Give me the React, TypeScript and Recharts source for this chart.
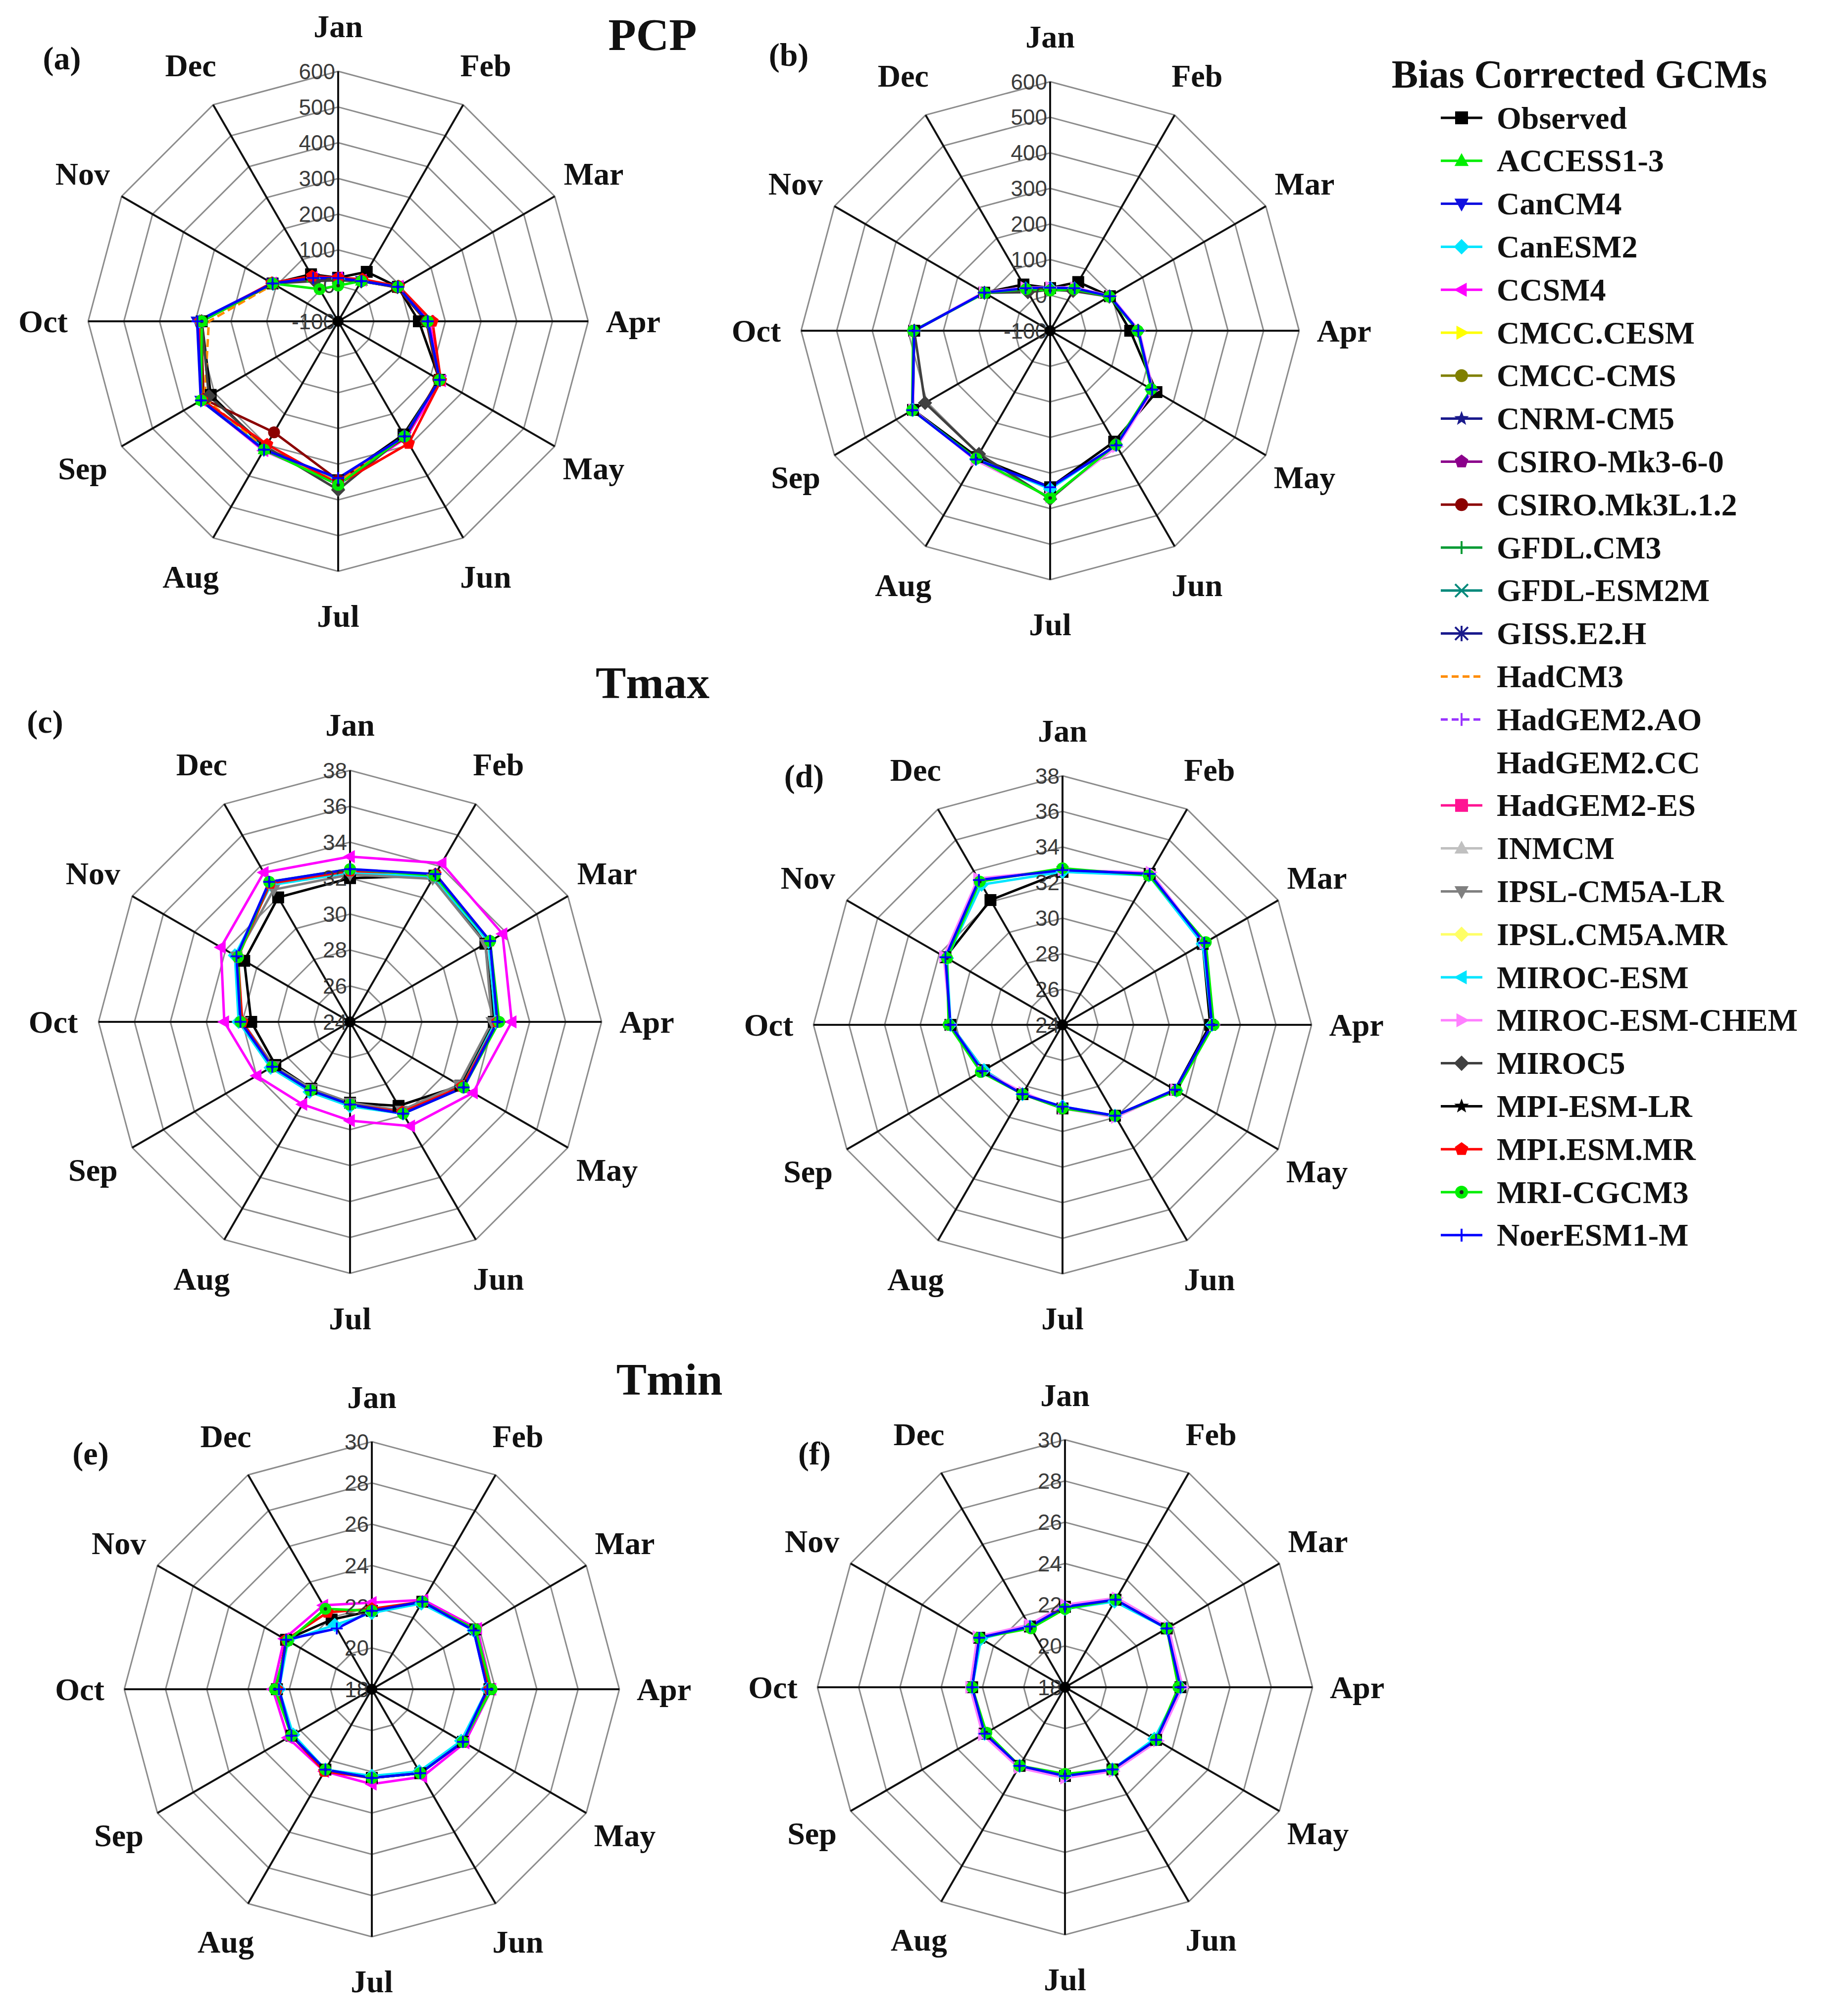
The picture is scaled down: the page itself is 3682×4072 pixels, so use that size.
import React from "react";
import { RadarChart, Radar, PolarGrid, PolarAngleAxis, PolarRadiusAxis } from "recharts";

// ---- categories ----
const months = ["Jan", "Feb", "Mar", "Apr", "May", "Jun", "Jul", "Aug", "Sep", "Oct", "Nov", "Dec"];

// ---- legend ----
const legendNames = [
  "Observed", "ACCESS1-3", "CanCM4", "CanESM2", "CCSM4", "CMCC.CESM", "CMCC-CMS", "CNRM-CM5",
  "CSIRO-Mk3-6-0", "CSIRO.Mk3L.1.2", "GFDL.CM3", "GFDL-ESM2M", "GISS.E2.H", "HadCM3", "HadGEM2.AO",
  "HadGEM2.CC", "HadGEM2-ES", "INMCM", "IPSL-CM5A-LR", "IPSL.CM5A.MR", "MIROC-ESM", "MIROC-ESM-CHEM",
  "MIROC5", "MPI-ESM-LR", "MPI.ESM.MR", "MRI-CGCM3", "NoerESM1-M",
];
const legendColors = [
  "#000000", "#00ee00", "#1010e0", "#00e5ff", "#ff00ff", "#ffff00", "#808000", "#1a1a8c",
  "#8b008b", "#8b0000", "#009a33", "#00897b", "#1a1a8c", "#ff8c00", "#9933ff",
  "#ffffff", "#ff1493", "#c0c0c0", "#808080", "#ffff66", "#00e5ff", "#ff80ff",
  "#404040", "#000000", "#ff0000", "#00ee00", "#0000ff",
];
const legendShapes = [
  "square", "triUp", "triDown", "diamond", "triLeft", "triRight", "circle", "star",
  "pentagon", "circle", "plus", "cross", "asterisk", "none", "bar",
  "none", "square", "triUp", "triDown", "diamond", "triLeft", "triRight",
  "diamond", "star", "pentagon", "circleStar", "plus",
];
const legendDashed = [
  false, false, false, false, false, false, false, false,
  false, false, false, false, false, true, true,
  false, false, false, false, false, false, false,
  false, false, false, false, false,
];

// ---- (a) PCP ----
const pcpHistObserved = [22, 60, 93, 126, 228, 266, 345, 310, 312, 282, 112, 52];
const pcpHistACCESS13 = [19, 31, 94, 150, 229, 273, 356, 314, 341, 283, 111, 42];
const pcpHistCanCM4 = [20, 31, 93, 152, 230, 274, 345, 316, 344, 295, 113, 40];
const pcpHistCanESM2 = [18, 30, 92, 149, 227, 271, 348, 312, 340, 288, 110, 38];
const pcpHistCCSM4 = [22, 33, 96, 155, 233, 278, 352, 318, 342, 290, 114, 42];
const pcpHistCSIROMk3L = [17, 30, 90, 147, 224, 276, 345, 259, 335, 284, 110, 40];
const pcpHistHadCM3 = [19, 31, 92, 150, 228, 272, 350, 310, 332, 262, 108, 45];
const pcpHistMIROC5 = [15, 29, 92, 148, 228, 270, 372, 305, 318, 282, 112, 30];
const pcpHistMPIMR = [22, 36, 96, 164, 232, 295, 356, 298, 340, 286, 115, 46];
const pcpHistMRI = [0, 30, 93, 151, 228, 272, 358, 315, 343, 282, 112, 4];
const pcpHistNoer = [21, 30, 93, 151, 228, 272, 339, 315, 343, 294, 112, 40];

// ---- (b) PCP ----
const pcpFutObserved = [20, 58, 94, 125, 245, 260, 340, 310, 345, 282, 114, 50];
const pcpFutCanESM2 = [20, 37, 93, 147, 229, 271, 345, 316, 346, 282, 113, 37];
const pcpFutMIROCCHEM = [22, 40, 96, 150, 234, 276, 368, 320, 345, 283, 116, 40];
const pcpFutMIROC5 = [15, 29, 92, 147, 230, 268, 373, 300, 306, 282, 113, 25];
const pcpFutMRI = [13, 35, 92, 146, 228, 270, 370, 315, 348, 285, 112, 35];
const pcpFutNoer = [21, 38, 94, 148, 231, 272, 340, 318, 347, 282, 114, 38];

// ---- (c) Tmax ----
const tmaxHistObserved = [32.0, 33.4, 32.7, 32.0, 31.1, 29.4, 28.5, 28.3, 28.8, 29.5, 30.8, 32.0];
const tmaxHistCanESM2 = [32.3, 33.3, 32.9, 32.1, 31.2, 29.9, 28.7, 28.5, 29.1, 30.2, 31.4, 32.8];
const tmaxHistCCSM4 = [33.2, 34.2, 33.8, 33.0, 31.9, 30.7, 29.5, 29.3, 30.0, 31.0, 32.3, 33.6];
const tmaxHistIPSLLR = [32.2, 33.2, 32.7, 31.9, 31.0, 29.7, 28.5, 28.3, 28.9, 30.0, 31.3, 32.5];
const tmaxHistMPIMR = [32.4, 33.5, 33.0, 32.2, 31.2, 29.8, 28.6, 28.4, 29.0, 30.0, 31.2, 32.9];
const tmaxHistMRI = [32.5, 33.4, 33.0, 32.3, 31.3, 29.9, 28.6, 28.4, 29.0, 30.1, 31.2, 33.0];
const tmaxHistNoer = [32.5, 33.5, 33.0, 32.2, 31.3, 29.9, 28.6, 28.4, 29.0, 30.1, 31.3, 33.0];

// ---- (d) Tmax ----
const tmaxFutObserved = [32.6, 33.8, 33.1, 32.3, 31.3, 29.9, 28.7, 28.5, 29.1, 30.3, 31.6, 32.1];
const tmaxFutCanESM2 = [32.6, 33.7, 33.1, 32.4, 31.4, 29.9, 28.6, 28.5, 29.1, 30.3, 31.5, 33.1];
const tmaxFutMIROCCHEM = [32.7, 33.9, 33.2, 32.5, 31.3, 30.0, 28.7, 28.4, 29.2, 30.3, 31.7, 33.5];
const tmaxFutMRI = [32.8, 33.7, 33.3, 32.5, 31.4, 29.9, 28.7, 28.5, 29.3, 30.4, 31.5, 33.3];
const tmaxFutNoer = [32.7, 33.8, 33.2, 32.4, 31.3, 29.9, 28.6, 28.5, 29.2, 30.3, 31.6, 33.4];

// ---- (e) Tmin ----
const tminHistObserved = [21.8, 22.9, 23.8, 23.7, 23.1, 22.7, 22.3, 22.5, 22.5, 22.6, 22.8, 21.9];
const tminHistCanESM2 = [21.7, 22.8, 23.7, 23.6, 23.0, 22.6, 22.2, 22.5, 22.4, 22.5, 22.7, 21.6];
const tminHistCCSM4 = [22.2, 23.0, 23.9, 23.8, 23.2, 22.9, 22.6, 22.6, 22.7, 22.8, 22.9, 22.7];
const tminHistMPIMR = [21.9, 22.9, 23.8, 23.7, 23.1, 22.7, 22.3, 22.6, 22.5, 22.6, 22.8, 22.3];
const tminHistMRI = [21.8, 22.9, 23.8, 23.8, 23.1, 22.7, 22.3, 22.5, 22.5, 22.7, 22.7, 22.5];
const tminHistNoer = [21.8, 22.9, 23.7, 23.6, 23.1, 22.7, 22.3, 22.5, 22.5, 22.5, 22.8, 21.4];

// ---- (f) Tmin ----
const tminFutObserved = [21.9, 22.9, 23.7, 23.6, 23.1, 22.6, 22.3, 22.4, 22.5, 22.5, 22.8, 21.4];
const tminFutCanESM2 = [21.8, 22.8, 23.7, 23.6, 23.0, 22.6, 22.3, 22.4, 22.5, 22.5, 22.7, 21.4];
const tminFutMIROCCHEM = [22.0, 23.0, 23.8, 23.7, 23.2, 22.7, 22.4, 22.5, 22.6, 22.6, 22.9, 21.5];
const tminFutMRI = [21.8, 22.9, 23.7, 23.5, 23.1, 22.6, 22.2, 22.4, 22.4, 22.5, 22.8, 21.3];
const tminFutNoer = [21.9, 22.9, 23.7, 23.6, 23.1, 22.6, 22.3, 22.4, 22.5, 22.5, 22.8, 21.4];

type Series = [string, number[]];

const SERIF = "'Liberation Serif', 'DejaVu Serif', serif";

function Marker({ shape, x, y, s, color }: { shape: string; x: number; y: number; s: number; color: string }) {
  const sw = Math.max(3, s * 0.3);
  switch (shape) {
    case "square":
      return <rect x={x - s} y={y - s} width={2 * s} height={2 * s} fill={color} />;
    case "triUp":
      return <polygon points={`${x},${y - s * 1.2} ${x + s * 1.1},${y + s * 0.8} ${x - s * 1.1},${y + s * 0.8}`} fill={color} />;
    case "triDown":
      return <polygon points={`${x},${y + s * 1.2} ${x + s * 1.1},${y - s * 0.8} ${x - s * 1.1},${y - s * 0.8}`} fill={color} />;
    case "triLeft":
      return <polygon points={`${x - s * 1.2},${y} ${x + s * 0.8},${y - s * 1.1} ${x + s * 0.8},${y + s * 1.1}`} fill={color} />;
    case "triRight":
      return <polygon points={`${x + s * 1.2},${y} ${x - s * 0.8},${y - s * 1.1} ${x - s * 0.8},${y + s * 1.1}`} fill={color} />;
    case "diamond":
      return <polygon points={`${x},${y - s * 1.2} ${x + s * 1.2},${y} ${x},${y + s * 1.2} ${x - s * 1.2},${y}`} fill={color} />;
    case "circle":
      return <circle cx={x} cy={y} r={s} fill={color} />;
    case "circleStar":
      return (
        <g>
          <circle cx={x} cy={y} r={s} fill={color} />
          <circle cx={x} cy={y} r={s * 0.3} fill="#222" />
        </g>
      );
    case "pentagon": {
      const pts = [0, 1, 2, 3, 4]
        .map((k) => {
          const a = -Math.PI / 2 + (k * 2 * Math.PI) / 5;
          return `${x + s * 1.1 * Math.cos(a)},${y + s * 1.1 * Math.sin(a)}`;
        })
        .join(" ");
      return <polygon points={pts} fill={color} />;
    }
    case "star": {
      const pts = Array.from({ length: 10 })
        .map((_, k) => {
          const a = -Math.PI / 2 + (k * Math.PI) / 5;
          const r = k % 2 === 0 ? s * 1.2 : s * 0.5;
          return `${x + r * Math.cos(a)},${y + r * Math.sin(a)}`;
        })
        .join(" ");
      return <polygon points={pts} fill={color} />;
    }
    case "plus":
      return (
        <g stroke={color} strokeWidth={sw}>
          <line x1={x - s} y1={y} x2={x + s} y2={y} />
          <line x1={x} y1={y - s} x2={x} y2={y + s} />
        </g>
      );
    case "cross":
      return (
        <g stroke={color} strokeWidth={sw}>
          <line x1={x - s} y1={y - s} x2={x + s} y2={y + s} />
          <line x1={x - s} y1={y + s} x2={x + s} y2={y - s} />
        </g>
      );
    case "asterisk":
      return (
        <g stroke={color} strokeWidth={sw}>
          <line x1={x - s} y1={y - s} x2={x + s} y2={y + s} />
          <line x1={x - s} y1={y + s} x2={x + s} y2={y - s} />
          <line x1={x} y1={y - s * 1.2} x2={x} y2={y + s * 1.2} />
        </g>
      );
    case "bar":
      return <line x1={x} y1={y - s} x2={x} y2={y + s} stroke={color} strokeWidth={sw} />;
    default:
      return null;
  }
}

function styleFor(name: string) {
  const i = legendNames.indexOf(name);
  return { color: legendColors[i], shape: legendShapes[i], dashed: legendDashed[i] };
}

function buildRows(series: Series[]) {
  return months.map((m, i) => {
    const row: Record<string, string | number> = { month: m };
    series.forEach(([, vals], k) => {
      row[`s${k}`] = vals[i];
    });
    return row;
  });
}

interface PanelProps {
  cx: number;
  cy: number;
  R: number;
  domain: [number, number];
  tickCount: number;
  series: Series[];
}

const HALF = 660;

function Panel({ cx, cy, R, domain, tickCount, series }: PanelProps) {
  const rows = buildRows(series);
  const angleTick = (props: any) => {
    const { x, y, payload } = props;
    const dx = x - HALF;
    const dy = y - HALF;
    const len = Math.hypot(dx, dy) || 1;
    const d = R * 1.18;
    return (
      <text
        x={HALF + (dx / len) * d}
        y={HALF + (dy / len) * d}
        textAnchor="middle"
        dominantBaseline="central"
        fontFamily={SERIF}
        fontWeight="bold"
        fontSize={64}
        fill="#111"
      >
        {payload.value}
      </text>
    );
  };
  const radiusTick = (props: any) => {
    const { x, y, payload, index } = props;
    return (
      <g>
        <text
          x={x - 6}
          y={y}
          textAnchor="end"
          dominantBaseline="central"
          fontFamily="'Liberation Sans', sans-serif"
          fontSize={44}
          fill="#3a3a3a"
        >
          {payload.value}
        </text>
        {index === 0 || payload.value === domain[0] ? <circle cx={HALF} cy={HALF} r={11} fill="#000" /> : null}
      </g>
    );
  };
  return (
    <div style={{ position: "absolute", left: cx - HALF, top: cy - HALF }}>
      <RadarChart
        width={HALF * 2}
        height={HALF * 2}
        data={rows}
        cx={HALF}
        cy={HALF}
        outerRadius={R}
        margin={{ top: 0, right: 0, bottom: 0, left: 0 }}
      >
        <PolarGrid gridType="polygon" radialLines={false} stroke="#8c8c8c" strokeWidth={3} />
        <PolarGrid gridType="polygon" polarRadius={[]} stroke="#111" strokeWidth={4} />
        <PolarAngleAxis dataKey="month" tick={angleTick} tickLine={false} axisLine={false} />
        <PolarRadiusAxis
          angle={90}
          type="number"
          domain={domain}
          tickCount={tickCount}
          allowDataOverflow
          axisLine={false}
          tickLine={false}
          tick={radiusTick}
        />
        {series.map(([name], k) => {
          const st = styleFor(name);
          return (
            <Radar
              key={name}
              name={name}
              dataKey={`s${k}`}
              stroke={st.color}
              strokeWidth={5}
              strokeDasharray={st.dashed ? "16 8" : undefined}
              fill="none"
              fillOpacity={0}
              isAnimationActive={false}
              dot={(p: any) => (
                <Marker key={`${name}-${p.index}`} shape={st.shape} x={p.cx} y={p.cy} s={12} color={st.color} />
              )}
            />
          );
        })}
      </RadarChart>
    </div>
  );
}

const panelA: Series[] = [
  ["Observed", pcpHistObserved],
  ["ACCESS1-3", pcpHistACCESS13],
  ["CanCM4", pcpHistCanCM4],
  ["CanESM2", pcpHistCanESM2],
  ["CCSM4", pcpHistCCSM4],
  ["CSIRO.Mk3L.1.2", pcpHistCSIROMk3L],
  ["HadCM3", pcpHistHadCM3],
  ["MIROC5", pcpHistMIROC5],
  ["MPI.ESM.MR", pcpHistMPIMR],
  ["MRI-CGCM3", pcpHistMRI],
  ["NoerESM1-M", pcpHistNoer],
];
const panelB: Series[] = [
  ["Observed", pcpFutObserved],
  ["CanESM2", pcpFutCanESM2],
  ["MIROC-ESM-CHEM", pcpFutMIROCCHEM],
  ["MIROC5", pcpFutMIROC5],
  ["MRI-CGCM3", pcpFutMRI],
  ["NoerESM1-M", pcpFutNoer],
];
const panelC: Series[] = [
  ["Observed", tmaxHistObserved],
  ["CanESM2", tmaxHistCanESM2],
  ["CCSM4", tmaxHistCCSM4],
  ["IPSL-CM5A-LR", tmaxHistIPSLLR],
  ["MPI.ESM.MR", tmaxHistMPIMR],
  ["MRI-CGCM3", tmaxHistMRI],
  ["NoerESM1-M", tmaxHistNoer],
];
const panelD: Series[] = [
  ["Observed", tmaxFutObserved],
  ["CanESM2", tmaxFutCanESM2],
  ["MIROC-ESM-CHEM", tmaxFutMIROCCHEM],
  ["MRI-CGCM3", tmaxFutMRI],
  ["NoerESM1-M", tmaxFutNoer],
];
const panelE: Series[] = [
  ["Observed", tminHistObserved],
  ["CanESM2", tminHistCanESM2],
  ["CCSM4", tminHistCCSM4],
  ["MPI.ESM.MR", tminHistMPIMR],
  ["MRI-CGCM3", tminHistMRI],
  ["NoerESM1-M", tminHistNoer],
];
const panelF: Series[] = [
  ["Observed", tminFutObserved],
  ["CanESM2", tminFutCanESM2],
  ["MIROC-ESM-CHEM", tminFutMIROCCHEM],
  ["MRI-CGCM3", tminFutMRI],
  ["NoerESM1-M", tminFutNoer],
];

function Overlay() {
  const bold = { fontFamily: SERIF, fontWeight: "bold" as const, fill: "#111" };
  const legendTop = 238;
  const legendStep = 86.8;
  return (
    <svg width={3682} height={4072} style={{ position: "absolute", left: 0, top: 0, pointerEvents: "none" }}>
      <text x={1318} y={70} textAnchor="middle" dominantBaseline="central" fontSize={92} {...bold}>PCP</text>
      <text x={1318} y={1379} textAnchor="middle" dominantBaseline="central" fontSize={92} {...bold}>Tmax</text>
      <text x={1352} y={2786} textAnchor="middle" dominantBaseline="central" fontSize={92} {...bold}>Tmin</text>
      <text x={125} y={117} textAnchor="middle" dominantBaseline="central" fontSize={66} {...bold}>(a)</text>
      <text x={1593} y={110} textAnchor="middle" dominantBaseline="central" fontSize={66} {...bold}>(b)</text>
      <text x={91} y={1457} textAnchor="middle" dominantBaseline="central" fontSize={66} {...bold}>(c)</text>
      <text x={1624} y={1567} textAnchor="middle" dominantBaseline="central" fontSize={66} {...bold}>(d)</text>
      <text x={183} y={2935} textAnchor="middle" dominantBaseline="central" fontSize={66} {...bold}>(e)</text>
      <text x={1645} y={2935} textAnchor="middle" dominantBaseline="central" fontSize={66} {...bold}>(f)</text>
      <text x={3190} y={150} textAnchor="middle" dominantBaseline="central" fontSize={80} {...bold}>Bias Corrected GCMs</text>
      {legendNames.map((name, i) => {
        const y = legendTop + i * legendStep;
        const color = legendColors[i];
        return (
          <g key={name}>
            {name !== "HadGEM2.CC" && (
              <line
                x1={2910}
                y1={y}
                x2={2994}
                y2={y}
                stroke={color}
                strokeWidth={5}
                strokeDasharray={legendDashed[i] ? "14 8" : undefined}
              />
            )}
            <Marker shape={legendShapes[i]} x={2952} y={y} s={13} color={color} />
            <text x={3023} y={y} dominantBaseline="central" fontSize={64} {...bold}>{name}</text>
          </g>
        );
      })}
    </svg>
  );
}

export default function App() {
  return (
    <div style={{ position: "relative", width: 3682, height: 4072, background: "#fff", overflow: "hidden" }}>
      <style>{`body{margin:0;background:#fff}`}</style>
      <Panel cx={683} cy={649} R={505} domain={[-100, 600]} tickCount={8} series={panelA} />
      <Panel cx={2121} cy={668} R={503} domain={[-100, 600]} tickCount={8} series={panelB} />
      <Panel cx={707} cy={2064} R={508} domain={[24, 38]} tickCount={8} series={panelC} />
      <Panel cx={2146} cy={2070} R={503} domain={[24, 38]} tickCount={8} series={panelD} />
      <Panel cx={751} cy={3412} R={500} domain={[18, 30]} tickCount={7} series={panelE} />
      <Panel cx={2151} cy={3408} R={500} domain={[18, 30]} tickCount={7} series={panelF} />
      <Overlay />
    </div>
  );
}
